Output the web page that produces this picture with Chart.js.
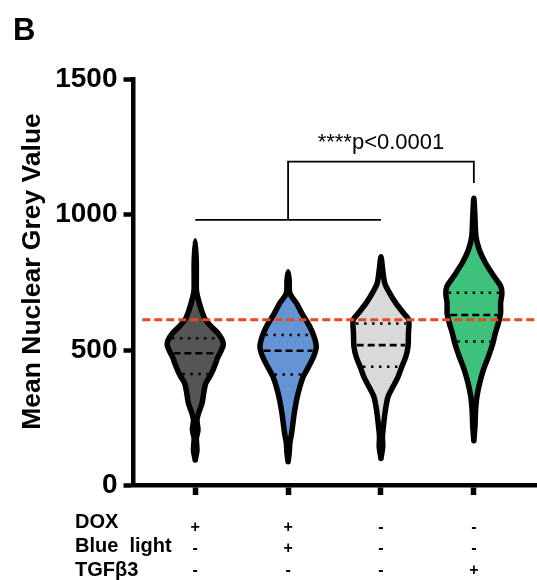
<!DOCTYPE html>
<html>
<head>
<meta charset="utf-8">
<script src="https://cdn.jsdelivr.net/npm/chart.js@4.4.1/dist/chart.umd.min.js"></script>
<style>
  html, body { margin: 0; padding: 0; background: #fff; }
</style>
</head>
<body>
<canvas id="violin-chart" width="537" height="580"></canvas>
<script>
// --- data ---
const rowNames = ['DOX', 'Blue  light', 'TGFβ3'];
const doxRow = ['+', '+', '-', '-'];
const blueRow = ['-', '+', '-', '-'];
const tgfRow = ['-', '-', '-', '+'];
const yTicks = [0, 500, 1000, 1500];
const yTitle = 'Mean Nuclear Grey Value';

// violin outlines: grey value levels and half widths (in category units)
const v1Levels = [94, 131, 174, 205, 242, 272, 303, 340, 377, 402, 426, 451, 469, 494, 518, 537, 562, 586, 617, 648, 691, 721, 820, 903];
const v1Widths = [0, 0.019, 0.012, 0.030, 0.019, 0.041, 0.073, 0.091, 0.113, 0.156, 0.191, 0.220, 0.238, 0.274, 0.302, 0.291, 0.245, 0.173, 0.102, 0.066, 0.030, 0.013, 0.012, 0];
const v2Levels = [88, 119, 156, 193, 230, 266, 315, 365, 401, 438, 475, 506, 525, 555, 586, 611, 635, 672, 709, 758, 789];
const v2Widths = [0, 0.012, 0.019, 0.038, 0.052, 0.066, 0.091, 0.127, 0.162, 0.220, 0.274, 0.302, 0.299, 0.274, 0.234, 0.191, 0.148, 0.091, 0.019, 0.012, 0];
const v3Levels = [100, 143, 180, 230, 279, 328, 365, 401, 438, 475, 512, 562, 611, 641, 672, 709, 746, 795, 844];
const v3Widths = [0, 0.019, 0.016, 0.030, 0.048, 0.076, 0.130, 0.184, 0.224, 0.267, 0.291, 0.296, 0.299, 0.231, 0.162, 0.095, 0.041, 0.019, 0];
const v4Levels = [165, 217, 279, 328, 377, 426, 475, 525, 562, 598, 635, 672, 709, 734, 770, 820, 869, 918, 992, 1060];
const v4Widths = [0, 0.012, 0.019, 0.033, 0.062, 0.102, 0.156, 0.205, 0.231, 0.263, 0.288, 0.288, 0.302, 0.291, 0.220, 0.127, 0.059, 0.023, 0.012, 0];

const q1Values = [411, 410, 438, 531];
const medianValues = [488, 497, 518, 629];
const q3Values = [543, 555, 598, 711];

const thresholdValue = 612;
const bracketLow = 980;
const bracketHigh = 1195;
const bracketRightEnd = 1116;
const pLabel = '****p<0.0001';
const pLabelValue = 1242;

// --- styles ---
const violinColors = ['#555555', '#6494d6', '#d9d9d9', '#3ec17b'];
const FONT = '"Liberation Sans", Arial, sans-serif';
Chart.defaults.font.family = FONT;
Chart.defaults.color = '#000';

const violins = [
  { levels: v1Levels, widths: v1Widths },
  { levels: v2Levels, widths: v2Widths },
  { levels: v3Levels, widths: v3Widths },
  { levels: v4Levels, widths: v4Widths }
];

function widthAt(levels, widths, v) {
  for (let i = 1; i < levels.length; i++) {
    if (v <= levels[i]) {
      const t = (v - levels[i - 1]) / (levels[i] - levels[i - 1]);
      return widths[i - 1] + t * (widths[i] - widths[i - 1]);
    }
  }
  return 0;
}

const datasets = [];

// threshold line (on top)
datasets.push({
  data: [{ x: 0.43, y: thresholdValue }, { x: 4.68, y: thresholdValue }],
  borderColor: '#e8481e', borderWidth: 3, borderDash: [8, 4],
  order: 0
});

// quartile + median lines
violins.forEach((v, i) => {
  const c = i + 1;
  [[q1Values[i], 'dot'], [medianValues[i], 'dash'], [q3Values[i], 'dot']].forEach(([val, kind]) => {
    const hw = Math.max(widthAt(v.levels, v.widths, val) - 0.03, 0);
    datasets.push({
      data: [{ x: c - hw, y: val }, { x: c + hw, y: val }],
      borderColor: '#000',
      borderWidth: kind === 'dash' ? 2.6 : 2.5,
      borderDash: kind === 'dash' ? [7, 4] : [2.5, 5.5],
      order: 1
    });
  });
});

// significance bracket
datasets.push({
  data: [{ x: 1, y: bracketLow }, { x: 3, y: bracketLow }],
  borderColor: '#000', borderWidth: 1.8, order: 1
});
datasets.push({
  data: [{ x: 2, y: bracketLow }, { x: 2, y: bracketHigh }, { x: 4, y: bracketHigh }, { x: 4, y: bracketRightEnd }],
  borderColor: '#000', borderWidth: 1.8, order: 1
});

// violins
violins.forEach((v, i) => {
  const c = i + 1;
  const right = v.levels.map((lv, k) => ({ x: c + v.widths[k], y: lv }));
  const left = v.levels.map((lv, k) => ({ x: c - v.widths[k], y: lv })).reverse().slice(1);
  datasets.push({
    data: right.concat(left),
    borderColor: '#000',
    borderWidth: 5.5,
    backgroundColor: violinColors[i],
    fill: 'shape',
    tension: 0.25,
    borderJoinStyle: 'round',
    borderCapStyle: 'round',
    order: 2
  });
});

const extraText = {
  id: 'extraText',
  afterDraw(chart) {
    const ctx = chart.ctx;
    const xs = chart.scales.x, ys = chart.scales.y;
    ctx.save();
    ctx.fillStyle = '#000';
    ctx.textBaseline = 'alphabetic';
    ctx.textAlign = 'left';
    ctx.font = 'bold 31px ' + FONT;
    ctx.fillText('B', 13, 40);
    ctx.font = 'bold 20px ' + FONT;
    rowNames.forEach((n, i) => ctx.fillText(n, 75, 527.5 + i * 24.4));
    ctx.font = '22px ' + FONT;
    ctx.textAlign = 'center';
    ctx.fillText(pLabel, xs.getPixelForValue(3), ys.getPixelForValue(pLabelValue));
    // y axis title
    ctx.translate(33, 271.5);
    ctx.rotate(-Math.PI / 2);
    ctx.textBaseline = 'middle';
    ctx.font = 'bold 26.5px ' + FONT;
    ctx.fillText(yTitle, 0, 0);
    ctx.restore();
  }
};

new Chart(document.getElementById('violin-chart'), {
  type: 'scatter',
  data: { datasets: datasets.map(d => Object.assign({ showLine: true, pointRadius: 0, pointHoverRadius: 0, fill: false }, d)) },
  options: {
    responsive: false,
    animation: false,
    events: [],
    layout: { padding: { top: 79, left: 0, right: 0, bottom: 0 } },
    plugins: { legend: { display: false }, tooltip: { enabled: false } },
    scales: {
      x: {
        type: 'linear', min: 0.33, max: 4.68,
        afterBuildTicks: s => { s.ticks = doxRow.map((_, i) => ({ value: i + 1 })); },
        afterFit: s => { s.height = 94.5; },
        grid: { drawOnChartArea: false, tickLength: 9.5, tickWidth: 5.5, tickColor: '#000' },
        border: { width: 4.5, color: '#000' },
        ticks: {
          autoSkip: false, maxRotation: 0, padding: 21.75, color: '#000',
          font: { size: 16, weight: 'bold', lineHeight: 1.344 },
          callback: v => [doxRow[v - 1], blueRow[v - 1], tgfRow[v - 1]]
        }
      },
      y: {
        min: 0, max: 1500,
        afterBuildTicks: s => { s.ticks = yTicks.map(v => ({ value: v })); },
        afterFit: s => { s.width = 133; },
        grid: { drawOnChartArea: false, tickLength: 9.5, tickWidth: 4.5, tickColor: '#000' },
        border: { width: 4.5, color: '#000' },
        ticks: { padding: 6, color: '#000', font: { size: 28, weight: 'bold' }, callback: v => String(v) }
      }
    }
  },
  plugins: [extraText]
});
</script>
</body>
</html>
